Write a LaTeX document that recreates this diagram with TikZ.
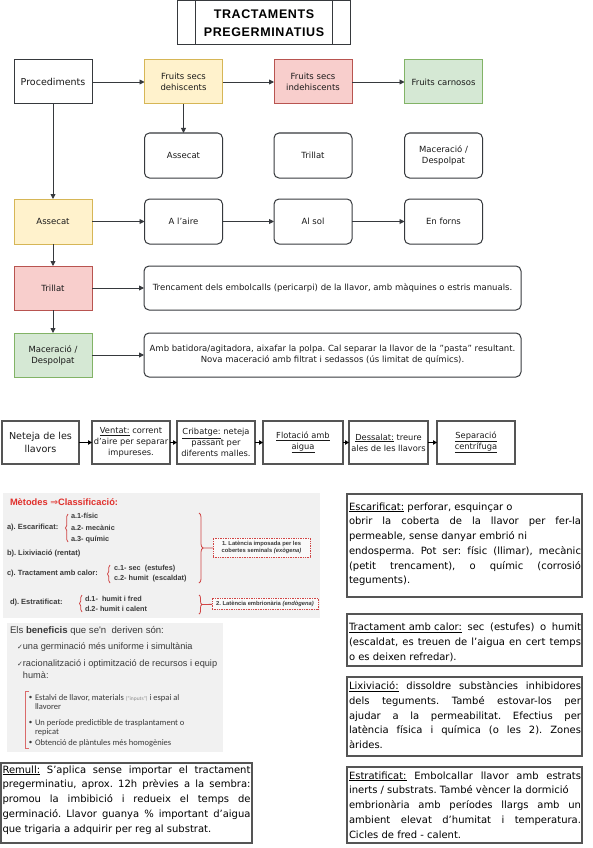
\documentclass[tikz,border=0pt]{standalone}
\usepackage{fontspec}
\setmainfont{DejaVu Sans}
\newfontfamily\djf{DejaVu Sans}
\newfontfamily\arialf{Liberation Sans}
\newfontfamily\titlef[LetterSpace=5]{Liberation Sans}
\newfontfamily\calibf{Carlito}
\usetikzlibrary{arrows.meta,decorations.pathreplacing}
\definecolor{dk}{HTML}{36393D}
\definecolor{txt}{HTML}{1A1A1A}
\definecolor{ngray}{HTML}{555555}
\definecolor{yfill}{HTML}{FFF2CC}
\definecolor{ydraw}{HTML}{D6B656}
\definecolor{rfill}{HTML}{F8CECC}
\definecolor{rdraw}{HTML}{B85450}
\definecolor{gfill}{HTML}{D5E8D4}
\definecolor{gdraw}{HTML}{82B366}
\definecolor{panelgray}{HTML}{F1F1F1}
\definecolor{redc}{HTML}{E0302C}
\definecolor{bracered}{HTML}{D04545}
\definecolor{ptxt}{HTML}{3A3A3A}
\frenchspacing
\begin{document}
\begin{tikzpicture}[x=1pt,y=-1pt,
  every node/.style={inner sep=0pt, outer sep=0pt},
  base/.style={draw=dk, line width=1pt, minimum width=78pt, minimum height=44pt, align=center, font=\fontsize{8.5}{11}\selectfont, text=txt},
  plainbox/.style={base, fill=white},
  yelbox/.style={base, fill=yfill, draw=ydraw},
  redbox/.style={base, fill=rfill, draw=rdraw},
  grnbox/.style={base, fill=gfill, draw=gdraw},
  rbox/.style={base, fill=white, rounded corners=5pt},
  arr/.style={-{Triangle[length=5pt,width=5pt]}, draw=dk, line width=0.9pt},
  nbox/.style={draw=ngray, line width=1.2pt, minimum width=78pt, minimum height=43pt, align=center, font=\fontsize{8.3}{11}\selectfont, text=txt},
  narr/.style={-{Triangle[length=4pt,width=4.5pt]}, draw=black, line width=0.9pt},
  tbox/.style={draw=ngray, line width=1.2pt, anchor=north west},
  jtext/.style={anchor=north west, align=justify, font=\frenchspacing\fontsize{10}{14.75}\selectfont, text=black},
  ptext/.style={anchor=west, text=ptxt, font=\arialf\bfseries\fontsize{7.5}{8}\selectfont},
  itext/.style={anchor=west, text=ptxt, font=\arialf\bfseries\fontsize{7.3}{8}\selectfont},
  brc/.style={draw=bracered, line width=0.8pt, decorate},
  latbox/.style={draw=bracered, densely dotted, line width=0.7pt, fill=white!55!panelgray, align=center, text=ptxt, font=\arialf\bfseries\fontsize{5.8}{6.8}\selectfont},
  btext/.style={anchor=west, text=ptxt, font=\calibf\fontsize{8.5}{9}\selectfont},
  bdot/.style={text=ptxt, font=\calibf\fontsize{7}{8}\selectfont}
]
\useasboundingbox (0,0) rectangle (592,848);

% ---------- title
\node[draw=dk, line width=1pt, fill=white, minimum width=173pt, minimum height=44pt] (title) at (263.5,23) {};
\draw[dk, line width=1pt] ([xshift=18pt]title.north west) -- ([xshift=18pt]title.south west);
\draw[dk, line width=1pt] ([xshift=-18pt]title.north east) -- ([xshift=-18pt]title.south east);
\node[align=center, font=\titlef\bfseries\fontsize{12.5}{17.5}\selectfont, text=black] (ttext) at (264,23) {TRACTAMENTS\\PREGERMINATIUS};

% ---------- row 1
\node[plainbox, font=\fontsize{9.5}{11}\selectfont] (proc) at (53,82) {Procediments};
\node[yelbox] (fsd) at (183.5,82) {Fruits secs\\dehiscents};
\node[redbox] (fsi) at (313,82) {Fruits secs\\indehiscents};
\node[grnbox] (fc) at (443.5,82) {Fruits carnosos};

% ---------- row 2
\node[rbox, minimum height=45pt] (ass2) at (183.5,155.5) {Assecat};
\node[rbox, minimum height=45pt] (tri2) at (313,155.5) {Trillat};
\node[rbox, minimum height=45pt] (mac2) at (443.5,155.5) {Maceració /\\Despolpat};

% ---------- row 3
\node[yelbox, minimum height=45pt] (ass) at (53,221.5) {Assecat};
\node[rbox, minimum height=45pt] (aire) at (183.5,221.5) {A l'aire};
\node[rbox, minimum height=45pt] (sol) at (313,221.5) {Al sol};
\node[rbox, minimum height=45pt] (forns) at (443.5,221.5) {En forns};

\node[redbox] (tri) at (53,288) {Trillat};
\node[rbox, minimum width=377pt] (trid) at (332.5,288) {Trencament dels embolcalls (pericarpi) de la llavor, amb màquines o estris manuals.};

\node[grnbox] (mac) at (53,355) {Maceració /\\Despolpat};
\node[rbox, minimum width=377pt] (macd) at (332.5,355) {Amb batidora/agitadora, aixafar la polpa. Cal separar la llavor de la "pasta" resultant.\\Nova maceració amb filtrat i sedassos (ús limitat de químics).};

% ---------- arrows
\draw[arr] (proc) -- (fsd);
\draw[arr] (fsd) -- (fsi);
\draw[arr] (fsi) -- (fc);
\draw[arr] (fsd) -- (ass2);
\draw[arr] (proc) -- (ass);
\draw[arr] (ass) -- (aire);
\draw[arr] (aire) -- (sol);
\draw[arr] (sol) -- (forns);
\draw[arr] (ass) -- (tri);
\draw[arr] (tri) -- (trid);
\draw[arr] (tri) -- (mac);
\draw[arr] (mac) -- (macd);

% ---------- neteja row
\node[nbox, minimum width=77pt, font=\fontsize{9.6}{13}\selectfont] (net) at (40.5,442.5) {Neteja de les\\llavors};
\node[nbox] (ven) at (131,442.5) {\underline{Ventat:} corrent\\d'aire per separar\\impureses.};
\node[nbox] (cri) at (216,442.5) {\underline{Cribatge:} neteja\\passant per\\diferents malles.};
\node[nbox, minimum width=80pt] (flo) at (303,442.5) {\underline{Flotació amb}\\\underline{aigua}};
\node[nbox, minimum width=79pt] (des) at (388.5,442.5) {\underline{Dessalat:} treure\\ales de les llavors};
\node[nbox] (sep) at (476,442.5) {\underline{Separació}\\\underline{centrífuga}};
\draw[narr] (net) -- (ven);
\draw[narr] (ven) -- (cri);
\draw[narr] (cri) -- (flo);
\draw[narr] (flo) -- (des);
\draw[narr] (des) -- (sep);

% ---------- methods panel
\node[fill=panelgray, minimum width=317pt, minimum height=125pt, anchor=north west] (mpanel) at (3,493) {};
\node[anchor=west, text=redc, font=\arialf\bfseries\fontsize{9.3}{10}\selectfont] (mt) at (10,502) {Mètodes {\djf\mdseries ⇒}Classificació:};
\node[ptext] (ea) at (7,528) {a). Escarificat:};
\draw[brc, decoration={brace, amplitude=2.5pt}] (68,542) -- (68,514);
\node[itext] (a1) at (71,516) {a.1-físic};
\node[itext] (a2) at (71,528) {a.2- mecànic};
\node[itext] (a3) at (71,540) {a.3- químic};
\node[ptext] (eb) at (7,554) {b). Lixiviació (rentat)};
\node[ptext] (ec) at (7,574) {c). Tractament amb calor:};
\draw[brc, decoration={brace, amplitude=2.5pt}] (110,583) -- (110,565);
\node[itext] (c1) at (114,569) {c.1- sec \ (estufes)};
\node[itext] (c2) at (114,579) {c.2- humit \ (escaldat)};
\draw[brc, decoration={brace, amplitude=4pt}] (199,513) -- (199,583);
\node[latbox, minimum width=97pt, minimum height=19pt] (lat1) at (261.5,547.5) {1. Latència imposada per les\\cobertes seminals \textit{(exògena)}};
\coordinate (tip1) at (203,548);
\draw[bracered, line width=0.8pt] (tip1) -- (lat1);
\node[ptext] (ed) at (10,603) {d). Estratificat:};
\draw[brc, decoration={brace, amplitude=2.5pt}] (82,612) -- (82,595);
\node[itext] (d1) at (85,599) {d.1- \ humit i fred};
\node[itext] (d2) at (85,609) {d.2- humit i calent};
\draw[brc, decoration={brace, amplitude=3pt}] (199,595) -- (199,614);
\node[latbox, minimum width=106pt, minimum height=11pt] (lat2) at (265,603.5) {2. Latència embrionària \textit{(endògena)}};
\coordinate (tip2) at (202,604.5);
\draw[bracered, line width=0.8pt] (tip2) -- (lat2);

% ---------- benefits panel
\node[fill=panelgray, minimum width=216pt, minimum height=129pt, anchor=north west] (bpanel) at (7,623) {};
\node[anchor=west, text=ptxt, font=\arialf\fontsize{9.6}{10}\selectfont] (bt) at (10,631) {Els \textbf{beneficis} que se'n \ deriven són:};
\node[anchor=west, text=ptxt, font=\arialf\fontsize{9.2}{10}\selectfont] (b1) at (17,647) {{\djf\fontsize{7}{8}\selectfont ✓}una germinació més uniforme i simultània};
\node[anchor=west, text=ptxt, font=\arialf\fontsize{9.2}{10}\selectfont] (b2) at (17,664) {{\djf\fontsize{7}{8}\selectfont ✓}racionalització i optimització de recursos i equip};
\node[anchor=west, text=ptxt, font=\arialf\fontsize{9.2}{10}\selectfont] (b2b) at (23,675) {humà:};
\draw[bracered!80, line width=0.8pt] (29,691) -- (25,691) -- (25,748) -- (29,748);
\node[bdot] (bb1) at (30.5,698) {•};
\node[bdot] (bb2) at (30.5,723) {•};
\node[bdot] (bb3) at (30.5,743) {•};
\node[btext] (s1) at (35,698) {Estalvi de llavor, materials {\color{ptxt!60}\fontsize{5.5}{6}\selectfont (“inputs”)} i espai al};
\node[btext] (s1b) at (35,707) {llavorer};
\node[btext] (s2) at (35,723) {Un període predictible de trasplantament o};
\node[btext] (s2b) at (35,732) {repicat};
\node[btext] (s3) at (35,743) {Obtenció de plàntules més homogènies};

% ---------- Remull box
\node[tbox, minimum width=251pt, minimum height=80pt] (rem) at (1,763) {};
\node[jtext, text width=248pt] (remt) at (2.5,765.5) {\underline{Remull:} S’aplica sense importar el tractament\linebreak pregerminatiu, aprox. 12h prèvies a la sembra:\linebreak promou la imbibició i redueix el temps de\linebreak germinació. Llavor guanya \% important d’aigua\linebreak que trigaria a adquirir per reg al substrat.};

% ---------- right boxes
\node[tbox, minimum width=235pt, minimum height=103pt] (esc) at (347,494) {};
\node[jtext, text width=232pt] (esct) at (349,502.5) {\underline{Escarificat:} perforar, esquinçar o\newline obrir la coberta de la llavor per fer-la\linebreak permeable, sense danyar embrió ni\newline endosperma. Pot ser: físic (llimar), mecànic\linebreak (petit trencament), o químic (corrosió\linebreak teguments).};

\node[tbox, minimum width=235pt, minimum height=52pt] (tca) at (347,614) {};
\node[jtext, text width=232pt] (tcat) at (349,623) {\underline{Tractament amb calor:} sec (estufes) o humit\linebreak (escaldat, es treuen de l'aigua en cert temps\linebreak o es deixen refredar).};

\node[tbox, minimum width=235pt, minimum height=79pt] (lix) at (347,677) {};
\node[jtext, text width=232pt] (lixt) at (349,681.5) {\underline{Lixiviació:} dissoldre substàncies inhibidores\linebreak dels teguments. També estovar-los per\linebreak ajudar a la permeabilitat. Efectius per\linebreak latència física i química (o les 2). Zones\linebreak àrides.};

\node[tbox, minimum width=235pt, minimum height=76pt] (est) at (347,767) {};
\node[jtext, text width=232pt] (estt) at (349,771.5) {\underline{Estratificat:} Embolcallar llavor amb estrats\linebreak inerts / substrats. També vèncer la dormició\newline embrionària amb períodes llargs amb un\linebreak ambient elevat d’humitat i temperatura.\linebreak Cicles de fred - calent.};

\end{tikzpicture}
\end{document}
